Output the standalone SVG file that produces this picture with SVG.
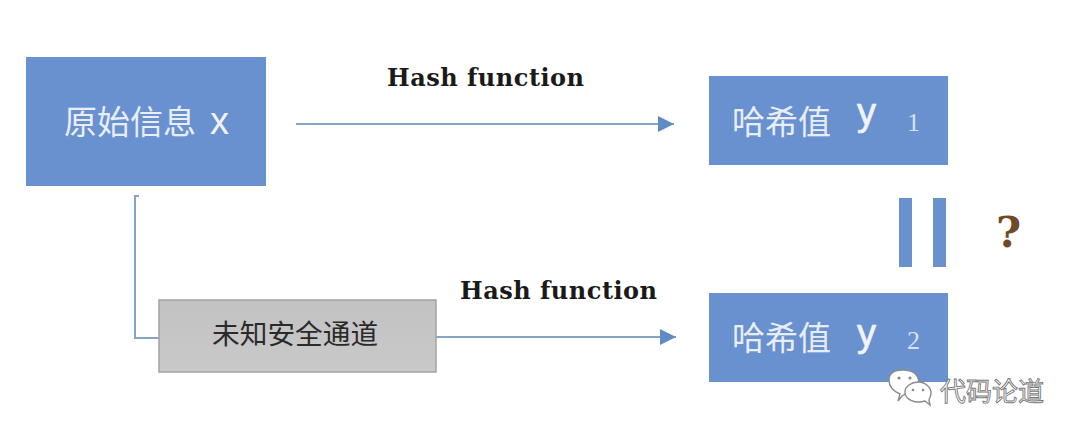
<svg xmlns="http://www.w3.org/2000/svg" width="1080" height="439" viewBox="0 0 1080 439">
<defs>
<marker id="arrow" markerUnits="userSpaceOnUse" markerWidth="18" markerHeight="16" refX="16" refY="8" orient="auto"><path d="M0 0L16 8L0 16Z" fill="#5f8cc4"/></marker>
<linearGradient id="g" x1="0" y1="0" x2="0" y2="1"><stop offset="0" stop-color="#c2c2c2"/><stop offset="1" stop-color="#c9c9c9"/></linearGradient>
</defs>
<style>
.box{fill:#6991cf}
.cn{font-family:"Noto Sans CJK SC","Noto Sans",sans-serif;font-size:33px;fill:#e8eef8}
.lat{font-family:"Liberation Sans",sans-serif;font-size:38px;fill:#f0f4fa}
.ylat{stroke:#f0f4fa;stroke-width:.7}
.num{font-family:"Liberation Serif",serif;font-size:26px;fill:#d5e2f4}
.hf{font-family:"DejaVu Serif",serif;font-size:24px;font-weight:bold;fill:#1a1a1a;letter-spacing:.5px}
.line{fill:none;stroke:#86a5c6;stroke-width:2}
.bubble{fill:#fff;stroke:#8a8a8a;stroke-width:1.4}
.dot{fill:#8a8a8a}
</style>
<rect width="1080" height="439" fill="#ffffff"/>
<g id="connectors">
<path class="line" d="M296 124H674" marker-end="url(#arrow)"/>
<path class="line" d="M139 196H135V338H159"/>
<path class="line" d="M436 337H676" marker-end="url(#arrow)"/>
</g>
<g id="source"><rect class="box" x="26" y="57" width="240" height="129"/><text class="cn" x="64" y="134">原始信息</text><text class="lat" x="210" y="134">x</text></g>
<g id="hash1"><rect class="box" x="709" y="76" width="239" height="89"/><text class="cn" x="732" y="134">哈希值</text><text class="lat ylat" x="857" y="125">y</text><text class="num" x="907" y="131">1</text></g>
<g id="hash2"><rect class="box" x="709" y="293" width="239" height="89"/><text class="cn" x="732" y="350">哈希值</text><text class="lat ylat" x="857" y="346">y</text><text class="num" x="907" y="349">2</text></g>
<g id="channel"><rect x="159" y="300" width="277" height="72" fill="url(#g)" stroke="#a3a3a3" stroke-width="1.5"/><text x="212" y="344" font-family="'Noto Sans CJK SC',sans-serif" font-size="27.7" fill="#2a2a2a">未知安全通道</text></g>
<g id="labels">
<text class="hf" x="387" y="86">Hash function</text>
<text class="hf" x="460" y="299">Hash function</text>
</g>
<g id="equals"><rect class="box" x="899" y="198" width="13" height="69"/><rect class="box" x="933" y="198" width="13" height="69"/></g>
<text x="996" y="247" font-family="'DejaVu Serif',serif" font-size="43" font-weight="bold" fill="#6e4a28">?</text>
<g id="watermark">
<path class="bubble" d="M898 401L900 394C893 391 889 386 889 380C889 372 896 370 903 370C911 370 918 373 919 382C913 384 908 388 907 393L902 396Z"/>
<circle class="dot" cx="899" cy="378" r="1.6"/><circle class="dot" cx="910" cy="378" r="1.6"/>
<path class="bubble" d="M930 405L925 401C916 404 905 400 905 392C905 386 912 382 918 382C925 382 931 387 931 393C931 396 930 398 929 400Z"/>
<circle class="dot" cx="913" cy="390" r="1.3"/><circle class="dot" cx="923" cy="390" r="1.3"/>
<text x="940" y="401" font-family="'Noto Sans CJK SC',sans-serif" font-size="26" fill="#fff" stroke="#777" stroke-width="0.9">代码论道</text>
</g>
</svg>
